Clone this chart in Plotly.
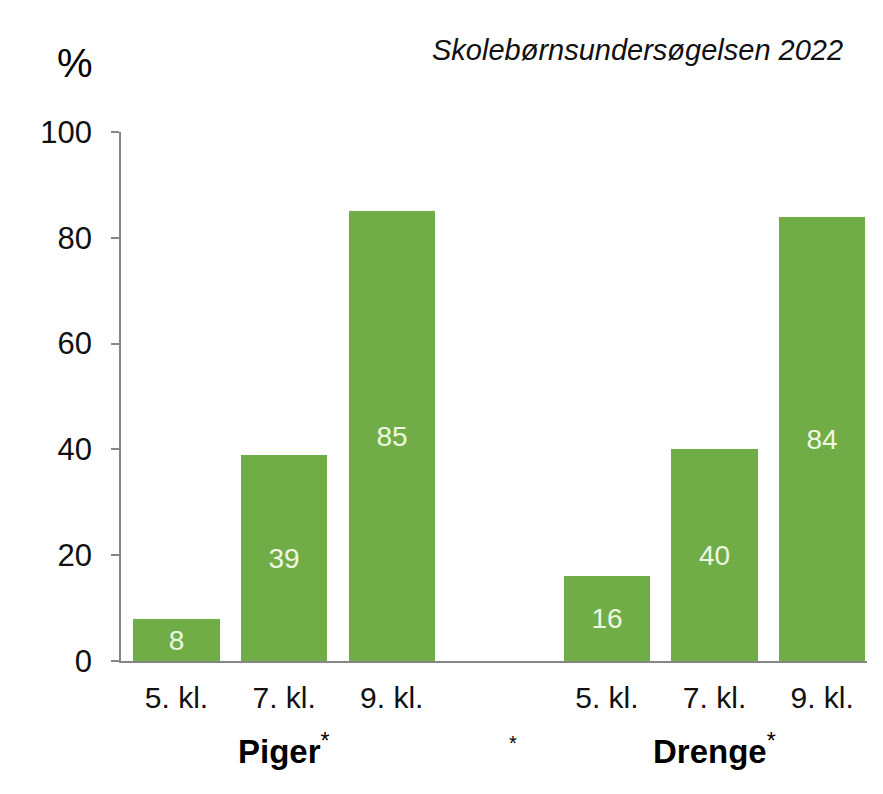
import plotly.graph_objects as go

grades = ["5. kl.", "7. kl.", "9. kl."]
groups = ["Piger", "Drenge"]
piger = [8, 39, 85]
drenge = [16, 40, 84]
yticks = [0, 20, 40, 60, 80, 100]

series = [piger, drenge]
xs, ys, labels = [], [], []
for gi, vals in enumerate(series):
    for i, v in enumerate(vals):
        xs.append(gi * (len(grades) + 1) + i)
        ys.append(v)
        labels.append(grades[i])

FONT = "Liberation Sans, Arial, sans-serif"
GREEN = "#70ad47"
AXIS = "#868686"

fig = go.Figure(go.Bar(
    x=xs, y=ys, width=0.8,
    marker=dict(color=GREEN, line=dict(width=0)),
    text=[str(v) for v in ys], textposition="inside", insidetextanchor="middle",
    textfont=dict(family=FONT, size=28, color="#eef7e2"),
    textangle=0, cliponaxis=False,
))

fig.update_layout(
    width=883, height=794,
    margin=dict(l=113, r=24, t=124, b=141),
    plot_bgcolor="white", paper_bgcolor="white",
    showlegend=False, bargap=0,
    font=dict(family=FONT, color="#000000"),
    uniformtext=dict(mode=False),
)
fig.update_xaxes(
    range=[-0.516, 6.417], tickvals=xs, ticktext=labels,
    tickfont=dict(family=FONT, size=30, color="#111111"),
    showline=True, linecolor=AXIS, linewidth=1.5, ticks="", showgrid=False,
    zeroline=False, ticklabelstandoff=9,
)
fig.update_yaxes(
    range=[0, 100], tickvals=yticks,
    tickfont=dict(family=FONT, size=31, color="#111111"),
    showline=True, linecolor=AXIS, linewidth=1.5, ticks="outside", ticklen=8,
    tickcolor=AXIS, tickwidth=1.5, showgrid=False, zeroline=False, ticklabelstandoff=13,
)

group_centers = [sum(xs[g * 3:(g + 1) * 3]) / 3 for g in range(2)]
for gi, name in enumerate(groups):
    fig.add_annotation(x=group_centers[gi], xref="x", y=-0.166, yref="paper",
                       text=f"<b>{name}</b><sup>*</sup>", showarrow=False,
                       yanchor="middle",
                       font=dict(family=FONT, size=33, color="#000000"))
fig.add_annotation(x=(xs[2] + xs[3]) / 2 + 0.127, xref="x", y=-0.155, yref="paper",
                   text="*", showarrow=False, yanchor="middle",
                   font=dict(family=FONT, size=20, color="#000000"))
fig.add_annotation(x=-0.061, xref="paper", y=1.131, yref="paper", text="%",
                   showarrow=False, xanchor="center", yanchor="middle",
                   font=dict(family=FONT, size=40, color="#000000"))
fig.add_annotation(x=0.9705, xref="paper", y=1.155, yref="paper",
                   text="<i>Skolebørnsundersøgelsen 2022</i>", showarrow=False,
                   xanchor="right", yanchor="middle",
                   font=dict(family=FONT, size=29, color="#111111"))

fig.write_html("out.html")
